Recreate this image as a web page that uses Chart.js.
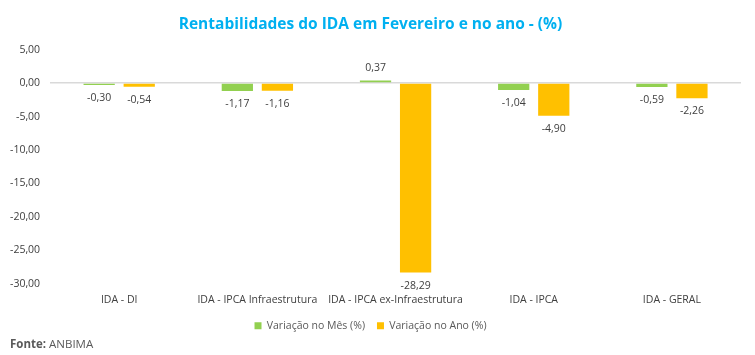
<!DOCTYPE html>
<html><head><meta charset="utf-8">
<script src="https://cdn.jsdelivr.net/npm/chart.js@4"></script>
<style>
html,body{margin:0;padding:0;background:#fff;}
#wrap{position:relative;width:755px;height:355px;}
#src{position:absolute;left:10px;top:336px;font:11.5px "Open Sans",sans-serif;color:#595959;}
</style></head>
<body>
<div id="wrap"><canvas id="c" width="755" height="355"></canvas>
<div id="src"><b>Fonte:</b> ANBIMA</div></div>
<script>
const categories = ["IDA - DI","IDA - IPCA Infraestrutura","IDA - IPCA ex-Infraestrutura","IDA - IPCA","IDA - GERAL"];
const variacaoMes = [-0.30,-1.17,0.37,-1.04,-0.59];
const variacaoAno = [-0.54,-1.16,-28.29,-4.90,-2.26];
const seriesNames = ["Variação no Mês (%)","Variação no Ano (%)"];
const yTicks = {min:-30,max:5,step:5};

const fmt = v => v.toFixed(2).replace('.', ',');
const FONT = '"Open Sans", sans-serif';

const labelPlugin = {
  id:'labels',
  afterDatasetsDraw(chart){
    const ctx = chart.ctx;
    ctx.save();
    ctx.font = '10.5px ' + FONT;
    ctx.fillStyle = '#404040';
    ctx.textAlign = 'center';
    chart.data.datasets.forEach((ds,i)=>{
      chart.getDatasetMeta(i).data.forEach((bar,j)=>{
        const v = ds.data[j];
        if (v >= 0){ ctx.textBaseline='bottom'; ctx.fillText(fmt(v), bar.x, bar.y-7); }
        else { ctx.textBaseline='top'; ctx.fillText(fmt(v), bar.x, bar.y+8); }
      });
    });
    ctx.restore();
  }
};

new Chart(document.getElementById('c'), {
  type:'bar',
  data:{labels:categories, datasets:[
    {label:seriesNames[0], data:variacaoMes, backgroundColor:'#92D050'},
    {label:seriesNames[1], data:variacaoAno, backgroundColor:'#FFC000'}
  ]},
  options:{
    responsive:false, animation:false,
    layout:{padding:{left:0,right:14,top:0,bottom:14}},
    categoryPercentage:0.58, barPercentage:0.78,
    plugins:{
      title:{display:true, text:'Rentabilidades do IDA em Fevereiro e no ano - (%)', color:'#00B0F0',
        font:{family:FONT, size:15.5, weight:'bold'}, padding:{top:15,bottom:16}},
      legend:{position:'bottom', labels:{boxWidth:7, boxHeight:7, color:'#595959', font:{family:FONT,size:10.5}, padding:12}},
      tooltip:{enabled:false}
    },
    scales:{
      x:{grid:{display:false}, border:{display:false}, ticks:{color:'#404040', font:{family:FONT,size:10.5}, maxRotation:0, autoSkip:false, padding:2}},
      y:{min:yTicks.min, max:yTicks.max, border:{display:false},
        grid:{color:c=>c.tick.value===0?'#d9d9d9':'rgba(0,0,0,0)', lineWidth:1.5, drawTicks:false},
        ticks:{stepSize:yTicks.step, color:'#404040', font:{family:FONT,size:10.5}, padding:10, callback:v=>fmt(v)}}
    }
  },
  plugins:[labelPlugin]
});
</script>
</body></html>
